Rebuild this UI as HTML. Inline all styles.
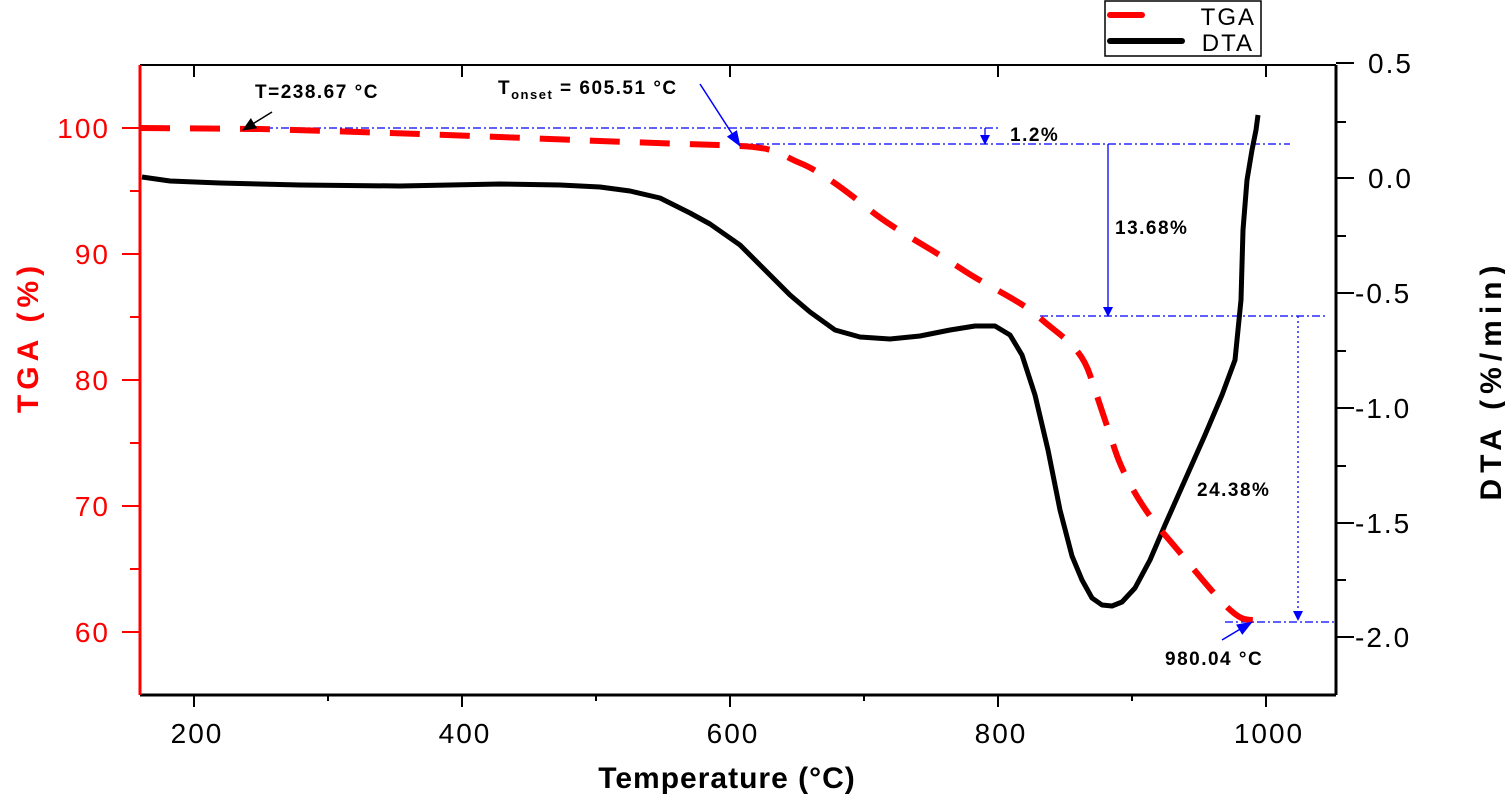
<!DOCTYPE html><html><head><style>body{margin:0;background:#fff}svg{font-family:"Liberation Sans",Arial,sans-serif}</style></head><body>
<svg width="1505" height="797" viewBox="0 0 1505 797" xmlns="http://www.w3.org/2000/svg">
<defs><marker id="ab" markerWidth="10" markerHeight="10" refX="9" refY="5" orient="auto" markerUnits="userSpaceOnUse"><path d="M0,0L10,5L0,10z" fill="#00f"/></marker>
<marker id="ak" markerWidth="14" markerHeight="12" refX="13" refY="6" orient="auto" markerUnits="userSpaceOnUse"><path d="M0,0L14,6L0,12z" fill="#000"/></marker>
<marker id="abb" markerWidth="16" markerHeight="12" refX="15" refY="6" orient="auto" markerUnits="userSpaceOnUse"><path d="M0,0L16,6L0,12z" fill="#00f"/></marker></defs>
<line x1="140" y1="65" x2="1336" y2="65" stroke="#000" stroke-width="2"/>
<line x1="140" y1="695" x2="1336" y2="695" stroke="#000" stroke-width="3"/>
<line x1="1336" y1="65" x2="1336" y2="695" stroke="#000" stroke-width="3"/>
<line x1="140" y1="65" x2="140" y2="695" stroke="#f00" stroke-width="3"/>
<g stroke="#000" stroke-width="2">
<line x1="194" y1="695" x2="194" y2="707"/><line x1="462" y1="695" x2="462" y2="707"/><line x1="730" y1="695" x2="730" y2="707"/><line x1="998" y1="695" x2="998" y2="707"/><line x1="1266" y1="695" x2="1266" y2="707"/>
<line x1="328" y1="695" x2="328" y2="701"/><line x1="596" y1="695" x2="596" y2="701"/><line x1="864" y1="695" x2="864" y2="701"/><line x1="1132" y1="695" x2="1132" y2="701"/>
<line x1="194" y1="65" x2="194" y2="77"/><line x1="462" y1="65" x2="462" y2="77"/><line x1="730" y1="65" x2="730" y2="77"/><line x1="998" y1="65" x2="998" y2="77"/><line x1="1266" y1="65" x2="1266" y2="77"/>
<line x1="1336" y1="63" x2="1354" y2="63"/><line x1="1336" y1="178" x2="1354" y2="178"/><line x1="1336" y1="293" x2="1354" y2="293"/><line x1="1336" y1="408" x2="1354" y2="408"/><line x1="1336" y1="523" x2="1354" y2="523"/><line x1="1336" y1="637" x2="1354" y2="637"/>
<line x1="1336" y1="122" x2="1346" y2="122"/><line x1="1336" y1="236" x2="1346" y2="236"/><line x1="1336" y1="351" x2="1346" y2="351"/><line x1="1336" y1="466" x2="1346" y2="466"/><line x1="1336" y1="580" x2="1346" y2="580"/>
</g>
<g stroke="#f00" stroke-width="2">
<line x1="122" y1="128" x2="140" y2="128"/><line x1="122" y1="254" x2="140" y2="254"/><line x1="122" y1="380" x2="140" y2="380"/><line x1="122" y1="506" x2="140" y2="506"/><line x1="122" y1="632" x2="140" y2="632"/>
<line x1="130" y1="191" x2="140" y2="191"/><line x1="130" y1="317" x2="140" y2="317"/><line x1="130" y1="443" x2="140" y2="443"/><line x1="130" y1="569" x2="140" y2="569"/>
</g>
<g font-size="28" fill="#000" text-anchor="middle" letter-spacing="2">
<text x="197" y="743">200</text><text x="465" y="743">400</text><text x="733" y="743">600</text><text x="1001" y="743">800</text><text x="1269" y="743">1000</text></g>
<g font-size="28" fill="#000" text-anchor="start" letter-spacing="2">
<text x="1368" y="73">0.5</text><text x="1368" y="188">0.0</text><text x="1355" y="303">-0.5</text><text x="1355" y="418">-1.0</text><text x="1355" y="533">-1.5</text><text x="1355" y="647">-2.0</text></g>
<g font-size="28" fill="#f00" text-anchor="end" letter-spacing="2">
<text x="110" y="138">100</text><text x="110" y="264">90</text><text x="110" y="390">80</text><text x="110" y="516">70</text><text x="110" y="642">60</text></g>
<text x="727" y="788" font-size="30" font-weight="bold" text-anchor="middle" letter-spacing="1">Temperature (°C)</text>
<text transform="translate(38,337) rotate(-90)" font-size="30" font-weight="bold" fill="#f00" text-anchor="middle" letter-spacing="5">TGA (%)</text>
<text transform="translate(1501,380) rotate(-90)" font-size="30" font-weight="bold" text-anchor="middle" letter-spacing="6">DTA (%/min)</text>
<rect x="1105" y="1" width="156" height="55" fill="#fff" stroke="#000" stroke-width="1.5"/>
<line x1="1110" y1="15" x2="1142" y2="15" stroke="#f00" stroke-width="6" stroke-linecap="round"/>
<line x1="1110" y1="41" x2="1182" y2="41" stroke="#000" stroke-width="6" stroke-linecap="round"/>
<text x="1256" y="25" font-size="24" text-anchor="end" letter-spacing="2">TGA</text>
<text x="1254" y="51" font-size="24" text-anchor="end" letter-spacing="2">DTA</text>
<g stroke="#00f" stroke-width="1.3" stroke-dasharray="8,3,2,3" fill="none">
<line x1="265" y1="128" x2="998" y2="128"/>
<line x1="740" y1="144" x2="1290" y2="144"/>
<line x1="1040" y1="316" x2="1326" y2="316"/>
<line x1="1225" y1="622" x2="1336" y2="622"/>
</g>
<line x1="1298" y1="316" x2="1298" y2="620" stroke="#00f" stroke-width="1.3" stroke-dasharray="2,3" marker-end="url(#ab)"/>
<line x1="1108" y1="144" x2="1108" y2="316" stroke="#00f" stroke-width="1.3" marker-end="url(#ab)"/>
<line x1="985" y1="128" x2="985" y2="144" stroke="#00f" stroke-width="1.3" marker-end="url(#ab)"/>
<polyline points="142,177 170,181 220,183 300,185 400,186 500,184 560,185 600,187 630,191 660,198 690,213 710,224 740,245 770,275 790,295 810,312 835,330 860,337 890,339 920,336 950,330 975,326 995,326 1010,335 1022,355 1035,395 1048,450 1060,510 1072,556 1082,580 1092,598 1102,605 1112,606 1122,602 1135,588 1150,560 1165,525 1185,480 1205,435 1222,395 1235,360 1241,300 1243,230 1247,180 1252,150 1256,130 1258,115" fill="none" stroke="#000" stroke-width="5" stroke-linejoin="round"/>
<path d="M140,128 L260,129 C330,131 400,133 550,139 S700,144 740,146 S780,155 800,163 S845,190 870,210 S930,248 960,268 S1020,300 1040,318 S1080,345 1090,375 S1105,420 1115,450 S1145,512 1165,535 S1210,590 1225,605 S1245,620 1255,620" fill="none" stroke="#f00" stroke-width="6" stroke-dasharray="30,20"/>
<line x1="272" y1="112" x2="243" y2="130" stroke="#000" stroke-width="1.5" marker-end="url(#ak)"/>
<line x1="700" y1="84" x2="740" y2="146" stroke="#00f" stroke-width="1.5" marker-end="url(#abb)"/>
<line x1="1222" y1="640" x2="1252" y2="622" stroke="#00f" stroke-width="1.5" marker-end="url(#abb)"/>
<g font-size="19" font-weight="bold" letter-spacing="1.5">
<text x="255" y="98">T=238.67 °C</text>
<text x="498" y="94">T<tspan font-size="13" dy="5">onset</tspan><tspan dy="-5"> = 605.51 °C</tspan></text>
<text x="1010" y="141">1.2%</text>
<text x="1115" y="234">13.68%</text>
<text x="1197" y="496">24.38%</text>
<text x="1165" y="665">980.04 °C</text>
</g>
</svg></body></html>
